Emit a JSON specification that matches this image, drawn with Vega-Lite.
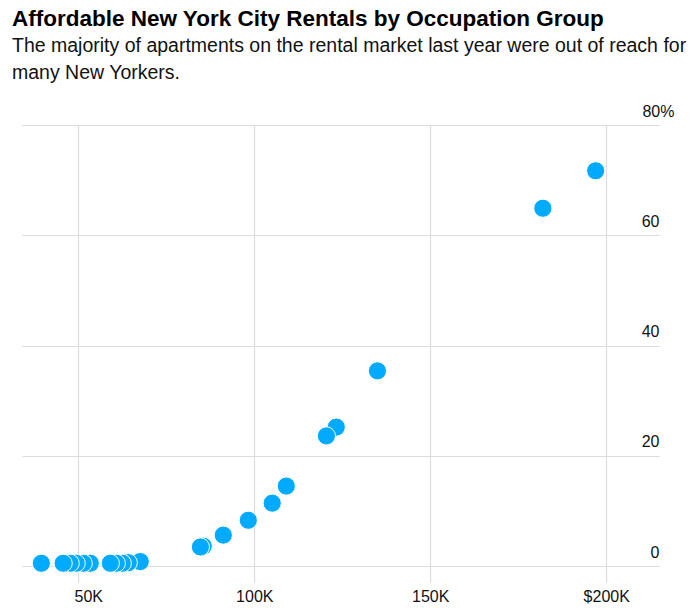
{
  "$schema": "https://vega.github.io/schema/vega-lite/v6.json",
  "autosize": {"type": "none"},
  "width": 637,
  "height": 441,
  "padding": {"left": 22, "top": 125, "right": 41, "bottom": 44},
  "background": "white",
  "title": {
    "text": "Affordable New York City Rentals by Occupation Group",
    "subtitle": ["The majority of apartments on the rental market last year were out of reach for", "many New Yorkers."],
    "anchor": "start",
    "frame": "group",
    "dx": -10,
    "offset": 21,
    "font": "Liberation Sans",
    "fontSize": 22.5,
    "fontWeight": "bold",
    "color": "#000000",
    "subtitleFont": "Liberation Sans",
    "subtitleFontSize": 19.5,
    "subtitleColor": "#111111",
    "subtitleLineHeight": 27,
    "subtitlePadding": 6
  },
  "config": {
    "view": {"stroke": null},
    "axis": {
      "labelFont": "Liberation Sans",
      "labelFontSize": 16,
      "labelColor": "#111111",
      "gridColor": "#dcdcdc",
      "gridWidth": 1.2,
      "domain": false,
      "title": null
    }
  },
  "data": {
    "values": [
      {"income": 197000, "share": 71.7},
      {"income": 182000, "share": 64.9},
      {"income": 135000, "share": 35.4},
      {"income": 123300, "share": 25.2},
      {"income": 120500, "share": 23.6},
      {"income": 109100, "share": 14.5},
      {"income": 105100, "share": 11.4},
      {"income": 98300, "share": 8.3},
      {"income": 91200, "share": 5.6},
      {"income": 85500, "share": 3.6},
      {"income": 84700, "share": 3.45},
      {"income": 67600, "share": 0.8},
      {"income": 64200, "share": 0.6},
      {"income": 62500, "share": 0.5},
      {"income": 60800, "share": 0.5},
      {"income": 59100, "share": 0.5},
      {"income": 53400, "share": 0.5},
      {"income": 51400, "share": 0.5},
      {"income": 49400, "share": 0.5},
      {"income": 47700, "share": 0.5},
      {"income": 45700, "share": 0.5},
      {"income": 39500, "share": 0.5}
    ]
  },
  "mark": {"type": "circle", "size": 330, "color": "#00aaff", "opacity": 1, "stroke": "white", "strokeWidth": 1},
  "encoding": {
    "x": {
      "field": "income",
      "type": "quantitative",
      "scale": {"domain": [34000, 215000], "nice": false, "zero": false},
      "axis": {
        "values": [50000, 100000, 150000, 200000],
        "labelExpr": "datum.value == 200000 ? '$200K' : (datum.value / 1000) + 'K'",
        "ticks": true,
        "tickSize": 16,
        "tickColor": "#dcdcdc",
        "tickWidth": 1.2,
        "labelPadding": 6,
        "labelOffset": {"condition": {"test": "datum.value == 50000", "value": 10}, "value": 0}
      }
    },
    "y": {
      "field": "share",
      "type": "quantitative",
      "scale": {"domain": [0, 80], "nice": false},
      "axis": {
        "orient": "right",
        "values": [0, 20, 40, 60, 80],
        "labelExpr": "datum.value == 80 ? '80%' : datum.label",
        "ticks": false,
        "tickSize": 0,
        "labelAlign": "right",
        "labelBaseline": "alphabetic",
        "labelOffset": -9,
        "labelPadding": {"condition": {"test": "datum.value == 80", "value": 15}, "value": 0}
      }
    }
  }
}
